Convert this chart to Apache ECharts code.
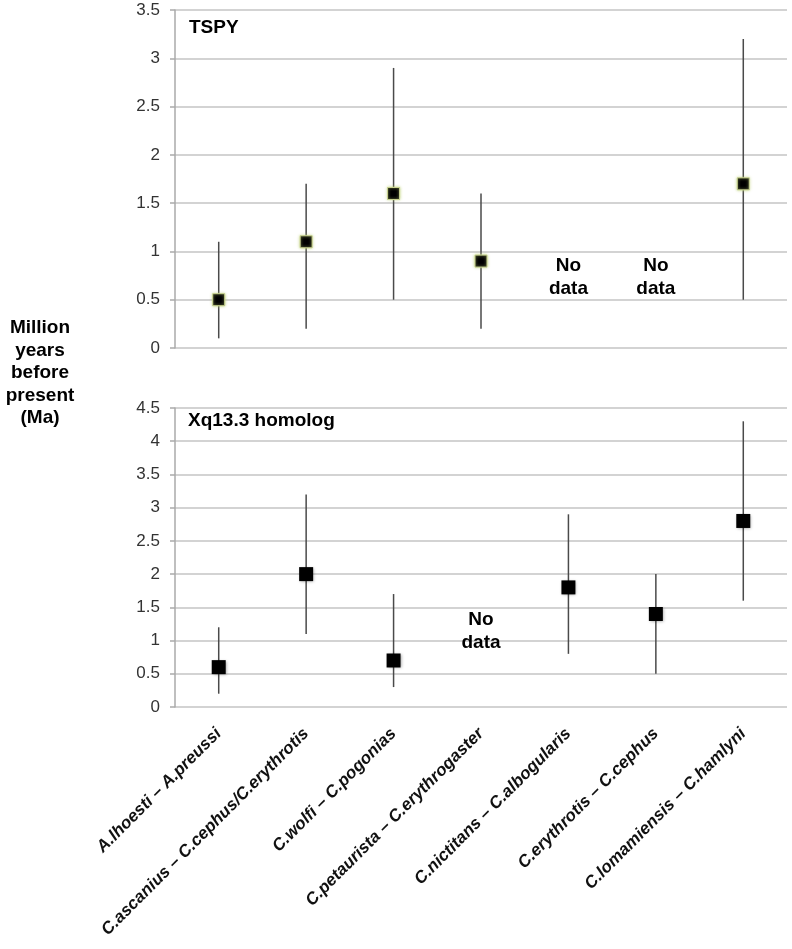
<!DOCTYPE html>
<html>
<head>
<meta charset="utf-8">
<script src="https://cdn.jsdelivr.net/npm/echarts@6/dist/echarts.min.js"></script>
<style>html,body{margin:0;padding:0;background:#fff}#c{width:792px;height:949px}</style>
</head>
<body>
<div id="c"></div>
<script>
var categories = ['A.lhoesti – A.preussi','C.ascanius – C.cephus/C.erythrotis','C.wolfi – C.pogonias','C.petaurista – C.erythrogaster','C.nictitans – C.albogularis','C.erythrotis – C.cephus','C.lomamiensis – C.hamlyni'];
var tspyMid  = [0.5, 1.1, 1.6, 0.9, null, null, 1.7];
var tspyLow  = [0.1, 0.2, 0.5, 0.2, null, null, 0.5];
var tspyHigh = [1.1, 1.7, 2.9, 1.6, null, null, 3.2];
var xqMid  = [0.6, 2.0, 0.7, null, 1.8, 1.4, 2.8];
var xqLow  = [0.2, 1.1, 0.3, null, 0.8, 0.5, 1.6];
var xqHigh = [1.2, 3.2, 1.7, null, 2.9, 2.0, 4.3];
var noDataTop = [null, null, null, null, 0.73, 0.73, null];
var noDataBottom = [null, null, null, 1.14, null, null, null];
var topTicks = {min: 0, max: 3.5, interval: 0.5};
var bottomTicks = {min: 0, max: 4.5, interval: 0.5};

var FONT = 'Liberation Sans, Arial, sans-serif';

function errData(low, high) {
  var out = [];
  for (var i = 0; i < low.length; i++) {
    if (low[i] != null) out.push([i, low[i], high[i]]);
  }
  return out;
}
function errRender(params, api) {
  var p1 = api.coord([api.value(0), api.value(1)]);
  var p2 = api.coord([api.value(0), api.value(2)]);
  return {type: 'line', shape: {x1: p1[0], y1: p1[1], x2: p2[0], y2: p2[1]},
          style: {stroke: '#4a4a4a', lineWidth: 1.5}};
}
function yAxis(idx, t) {
  return {
    type: 'value', gridIndex: idx, min: t.min, max: t.max, interval: t.interval,
    axisLine: {show: true, lineStyle: {color: '#aaa', width: 1.5}},
    axisTick: {show: true, length: 5, lineStyle: {color: '#aaa', width: 1.5}},
    splitLine: {show: true, lineStyle: {color: '#c4c4c4', width: 1.5}},
    axisLabel: {fontFamily: FONT, fontSize: 17, color: '#333', margin: 15}
  };
}
var noDataLabel = {show: true, position: 'inside', formatter: 'No\ndata', fontFamily: FONT, fontSize: 19,
                   fontWeight: 'bold', color: '#000', lineHeight: 23};

var chart = echarts.init(document.getElementById('c'));
chart.setOption({
  animation: false,
  grid: [
    {left: 175, right: 5, top: 10, height: 338},
    {left: 175, right: 5, top: 408, height: 299}
  ],
  xAxis: [
    {type: 'category', gridIndex: 0, data: categories, boundaryGap: true,
     axisLine: {show: false}, axisTick: {show: false}, axisLabel: {show: false}},
    {type: 'category', gridIndex: 1, data: categories, boundaryGap: true,
     axisLine: {show: false}, axisTick: {show: false},
     axisLabel: {rotate: 45, interval: 0, fontFamily: FONT, fontSize: 17, fontStyle: 'italic',
                 fontWeight: 'bold', color: '#111', margin: 24}}
  ],
  yAxis: [yAxis(0, topTicks), yAxis(1, bottomTicks)],
  series: [
    {type: 'custom', xAxisIndex: 0, yAxisIndex: 0, renderItem: errRender, data: errData(tspyLow, tspyHigh), z: 2},
    {type: 'custom', xAxisIndex: 1, yAxisIndex: 1, renderItem: errRender, data: errData(xqLow, xqHigh), z: 2},
    {type: 'scatter', xAxisIndex: 0, yAxisIndex: 0, data: tspyMid, symbol: 'rect', symbolSize: 12, z: 3,
     itemStyle: {color: '#000', opacity: 1, borderColor: '#c9d38f', borderWidth: 1, shadowBlur: 3, shadowColor: 'rgba(190,210,120,0.9)'}},
    {type: 'scatter', xAxisIndex: 1, yAxisIndex: 1, data: xqMid, symbol: 'rect', symbolSize: 14, z: 3,
     itemStyle: {color: '#000', opacity: 1, shadowBlur: 3, shadowOffsetX: 1, shadowOffsetY: 1, shadowColor: 'rgba(0,0,0,0.35)'}},
    {type: 'scatter', xAxisIndex: 0, yAxisIndex: 0, data: noDataTop, symbolSize: 0, z: 4,
     itemStyle: {opacity: 1}, label: noDataLabel},
    {type: 'scatter', xAxisIndex: 1, yAxisIndex: 1, data: noDataBottom, symbolSize: 0, z: 4,
     itemStyle: {opacity: 1}, label: noDataLabel}
  ],
  graphic: [
    {type: 'text', left: 189, top: 18, style: {text: 'TSPY', font: 'bold 19px ' + FONT, fill: '#000'}},
    {type: 'text', left: 188, top: 411, style: {text: 'Xq13.3 homolog', font: 'bold 19px ' + FONT, fill: '#000'}},
    {type: 'text', x: 40, y: 317, style: {text: 'Million\nyears\nbefore\npresent\n(Ma)', font: 'bold 19px ' + FONT,
      fill: '#000', align: 'center', lineHeight: 22.5}}
  ]
});
</script>
</body>
</html>
